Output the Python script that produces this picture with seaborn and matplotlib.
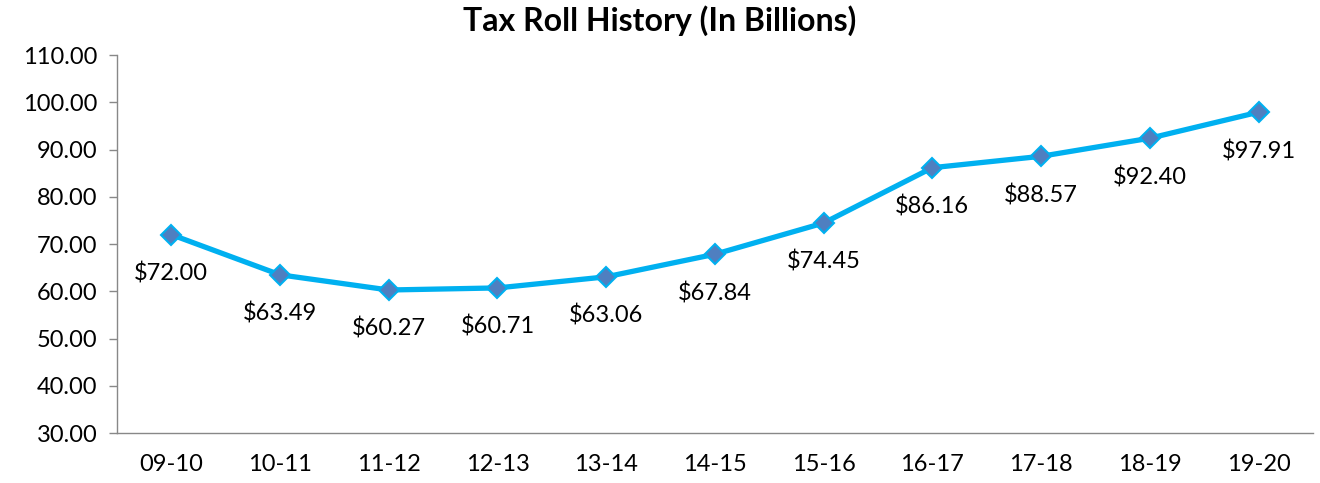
import matplotlib
matplotlib.use("Agg")
import matplotlib.pyplot as plt
import seaborn as sns
import pandas as pd
import numpy as np
from matplotlib.ticker import FixedLocator

years = ["09-10", "10-11", "11-12", "12-13", "13-14", "14-15", "15-16", "16-17", "17-18", "18-19", "19-20"]
values = [72.00, 63.49, 60.27, 60.71, 63.06, 67.84, 74.45, 86.16, 88.57, 92.40, 97.91]
yticks = [30, 40, 50, 60, 70, 80, 90, 100, 110]

sns.set_theme(style="white")
plt.rcParams['font.family'] = ['Lato', 'DejaVu Sans']
plt.rcParams['text.color'] = 'black'
plt.rcParams['xtick.color'] = 'black'
plt.rcParams['ytick.color'] = 'black'

df = pd.DataFrame({"year": years, "value": values})

fig = plt.figure(figsize=(13.2, 4.83), dpi=100)
ax = fig.add_axes([0.0886, 0.1035, 0.906, 0.7825])

sns.lineplot(data=df, x="year", y="value", ax=ax, color="#00B0F0", linewidth=3.8,
             marker="D", markersize=10, markerfacecolor="#4F7FC0",
             markeredgecolor="#00B0F0", markeredgewidth=1.5, sort=False)

for i, v in enumerate(values):
    ax.annotate(f"${v:.2f}", (i, v), xytext=(0, -28), textcoords="offset points",
                ha="center", va="center", fontsize=17, color="black")

ax.set_xlim(-0.5, len(years) - 0.5)
ax.set_ylim(30, 110)
ax.set_yticks(yticks)
ax.set_yticklabels([f"{t:.2f}" for t in yticks], fontsize=17)
ax.set_xticks(range(len(years)))
ax.set_xticklabels(years, fontsize=17)
ax.xaxis.set_minor_locator(FixedLocator(np.arange(-0.5, len(years), 1.0)))
ax.tick_params(axis="x", which="major", length=0, pad=15, labelcolor="black")
ax.tick_params(axis="x", which="minor", length=6, color="#888888", width=1, direction="out")
ax.tick_params(axis="y", which="major", length=6, color="#888888", width=1, direction="out",
               left=True, pad=8, labelcolor="black")
ax.set_xlabel("")
ax.set_ylabel("")
for s in ["top", "right"]:
    ax.spines[s].set_visible(False)
for s in ["left", "bottom"]:
    ax.spines[s].set_color("#888888")
    ax.spines[s].set_linewidth(1)

fig.suptitle("Tax Roll History (In Billions)", fontsize=23, fontweight="bold", y=0.99, color="black")
fig.savefig("out.png", dpi=100)
